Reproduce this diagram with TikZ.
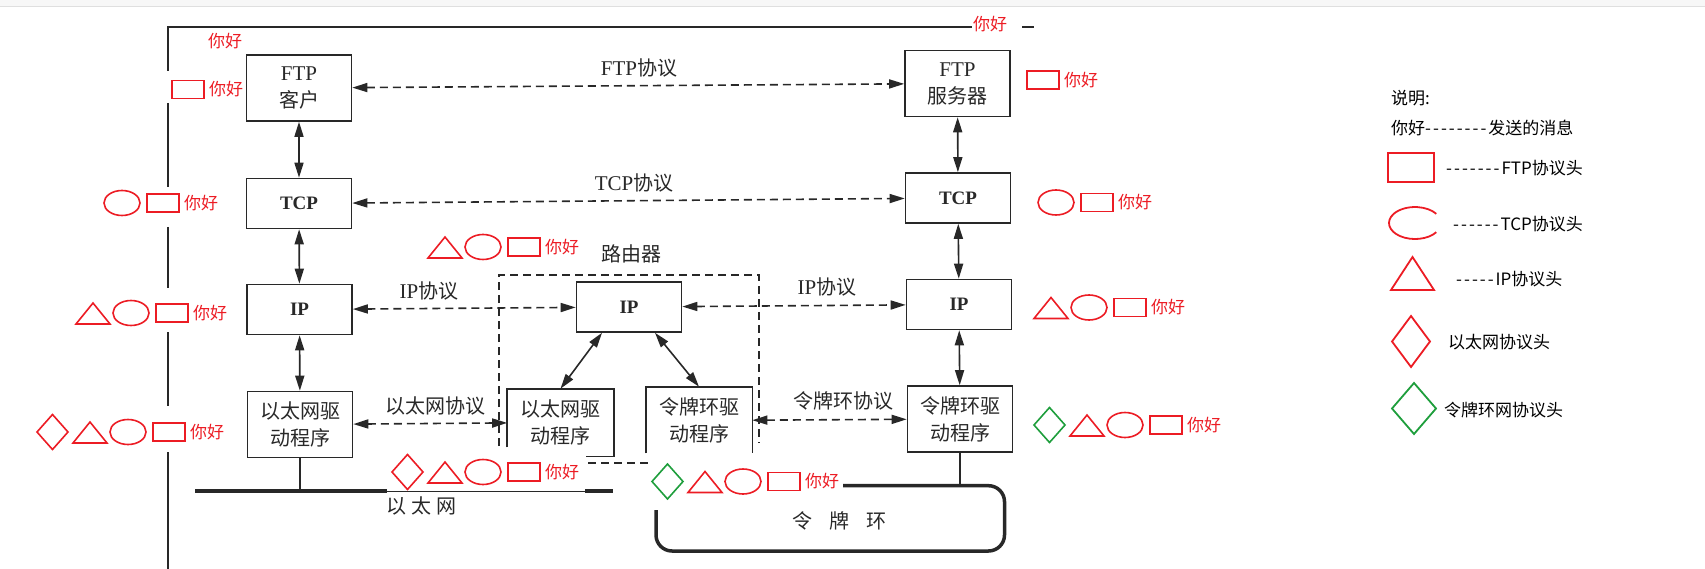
\documentclass[tikz,border=0pt]{standalone}
\usepackage{fontspec}
\setmainfont{Liberation Serif}
\newfontfamily\cjk{Noto Sans CJK SC}
\usetikzlibrary{arrows.meta}

\definecolor{scan}{RGB}{40,40,40}
\definecolor{hred}{RGB}{236,28,36}
\definecolor{hgreen}{RGB}{30,158,60}

\newcommand{\zh}[1]{{\cjk\fontsize{20}{27}\selectfont #1}}
\newcommand{\dsh}[1]{\foreach\k in {1,...,#1}{-\kern2pt}}

\tikzstyle{sbox}=[draw=scan, line width=1.6pt, minimum width=105pt, inner sep=0pt, align=center, text=scan, font=\fontsize{21}{27}\selectfont]
\tikzstyle{lbox}=[sbox, minimum height=50pt, font=\bfseries\fontsize{19}{19}\selectfont]
\tikzstyle{dbox}=[sbox, minimum height=66pt]
\tikzstyle{updown}=[{Triangle[length=15pt,width=9pt]}-{Triangle[length=15pt,width=9pt]}, line width=1.6pt, draw=scan]
\tikzstyle{peer}=[updown, dash pattern=on 8pt off 5pt]
\tikzstyle{rtr}=[draw=scan, line width=1.5pt, dash pattern=on 8pt off 5pt]
\tikzstyle{wire}=[draw=scan, line width=1.5pt]
\tikzstyle{proto}=[text=scan, inner sep=0pt, font=\fontsize{21}{21}\selectfont]
\tikzstyle{hdr}=[draw=hred, line width=1.6pt]
\tikzstyle{hello}=[text=hred, inner sep=0pt, anchor=west, font=\cjk\fontsize{17}{17}\selectfont]
\tikzstyle{note}=[text=black, inner sep=0pt, anchor=west, font=\cjk\fontsize{17}{17}\selectfont]

% name, rect x, centre y, number of headers, diamond colour
\newcommand{\hdrs}[5]{%
  \draw[hdr] (#2,#3-9) rectangle ++(32,18);
  \node[hello] (#1) at (#2+37,#3) {你好};
  \ifnum#4>1 \draw[hdr] (#2-25,#3) ellipse [x radius=18, y radius=12.5];\fi
  \ifnum#4>2 \draw[hdr] (#2-80,#3+11) -- ++(34,0) -- ++(-17,-21) -- cycle;\fi
  \ifnum#4>3 \draw[hdr, draw=#5] (#2-116,#3) -- ++(15.5,-17.5) -- ++(15.5,17.5) -- ++(-15.5,17.5) -- cycle;\fi
}

\begin{document}
\begin{tikzpicture}[x=1pt, y=-1pt]
\useasboundingbox (0,0) rectangle (1705,569);
\fill[gray!6] (0,0) rectangle (1705,7);
\draw[gray!25, line width=1pt] (0,7) -- (1705,7);

% hosts and router
\node[dbox] (ftpc) at (299,88) {FTP\\\zh{客户}};
\node[dbox] (ftps) at (957.5,83.5) {FTP\\\zh{服务器}};
\node[lbox] (tcpl) at (299,203.5) {TCP};
\node[lbox] (tcpr) at (958,198) {TCP};
\node[lbox] (ipl) at (299.5,309.5) {IP};
\node[lbox] (ipm) at (629,307) {IP};
\node[lbox] (ipr) at (959,304.5) {IP};
\node[dbox] (ethl) at (300,424.5) {\zh{以太网驱}\\\zh{动程序}};
\node[dbox, draw=none] (ethm) at (560.5,422.5) {\zh{以太网驱}\\\zh{动程序}};
\node[dbox, draw=none] (tokm) at (699,420.5) {\zh{令牌环驱}\\\zh{动程序}};
\node[dbox] (tokr) at (960,419) {\zh{令牌环驱}\\\zh{动程序}};

\draw[wire, line width=1.6pt] ([yshift=9pt]ethm.south west) -- (ethm.north west) -- (ethm.north east) -- (ethm.south east) -- ++(-28,0);
\draw[wire, line width=1.6pt] ([yshift=1pt]tokm.south west) -- (tokm.north west) -- (tokm.north east) -- ([yshift=1pt]tokm.south east);
\draw[rtr] (499,446) -- (499,275) -- (759,275) -- (759,443);
\draw[rtr] (588,463) -- (651,463);

\draw[updown] (ftpc) -- (tcpl);
\draw[updown] (tcpl) -- (ipl);
\draw[updown] (ipl) -- (ethl);
\draw[updown] (ftps) -- (tcpr);
\draw[updown] (tcpr) -- (ipr);
\draw[updown] (ipr) -- (tokr);
\draw[updown] ([xshift=-27pt]ipm.south) -- (ethm.north);
\draw[updown] ([xshift=26pt]ipm.south) -- (tokm.north);

\draw[peer] (ftpc) -- (ftps);
\draw[peer] (tcpl) -- (tcpr);
\draw[peer] (ipl) -- (ipm);
\draw[peer] (ipm) -- (ipr);
\draw[peer] (ethl) -- (ethm);
\draw[peer] (tokm) -- (tokr);

% ethernet and token ring
\coordinate (ethA) at (195,491);
\coordinate (ringT) at (843,485.7);
\draw[scan, line width=3.5pt] (ethA) -- (387,491);
\draw[scan, line width=1pt] (387,491) -- (585,491);
\draw[scan, line width=3.5pt] (585,491) -- (613,491);
\draw[wire, line width=1.2pt] (ethl.south) -- (ethl.south |- ethA);
\draw[scan, line width=3.5pt, rounded corners=16pt] (ringT) -- (1004.5,485.7) -- (1004.5,551) -- (656,551) -- (656,510);
\draw[wire, line width=1.2pt] (tokr.south) -- (tokr.south |- ringT);

\node[proto] (lftp) at (639,68) {FTP\zh{协议}};
\node[proto] (ltcp) at (634,183) {TCP\zh{协议}};
\node[proto] (lipl) at (429,291) {IP\zh{协议}};
\node[proto] (lipr) at (827,287) {IP\zh{协议}};
\node[proto] (leth) at (435,406) {\zh{以太网协议}};
\node[proto] (ltok) at (843,401) {\zh{令牌环协议}};
\node[proto] (lrtr) at (631,254) {\zh{路由器}};
\node[proto] (lnet) at (421,506) {\zh{以\hspace{5pt}太\hspace{5pt}网}};
\node[proto] (lring) at (839,521) {\zh{令\hspace{17pt}牌\hspace{17pt}环}};

% frame of the message path
\draw[wire] (168,71) -- (168,27) -- (972,27);
\foreach \a/\b in {103/187, 227/288, 332/406, 452/569}
  \draw[wire] (168,\a) -- (168,\b);
\draw[wire, line width=1.2pt] (1022,27) -- (1034,27);
\node[hello] (topl) at (208,41) {你好};
\node[hello] (topr) at (973,24) {你好};

% headers added on the way
\hdrs{mftpl}{172}{89.5}{1}{hred}
\hdrs{mftpr}{1027}{80}{1}{hred}
\hdrs{mtcpl}{147}{203}{2}{hred}
\hdrs{mtcpr}{1081}{202.5}{2}{hred}
\hdrs{mrtr}{508}{247}{3}{hred}
\hdrs{mipl}{156}{313}{3}{hred}
\hdrs{mipr}{1114}{307.5}{3}{hred}
\hdrs{methl}{153}{432}{4}{hred}
\hdrs{methm}{508}{472}{4}{hred}
\hdrs{mtokm}{768}{481.5}{4}{hgreen}
\hdrs{mtokr}{1150}{425}{4}{hgreen}

% legend
\node[note] (nhead) at (1391,98) {说明:};
\node[note] (nmsg) at (1391,128) {你好\dsh{8}发送的消息};
\draw[hdr, line width=1.8pt] (1388,153) rectangle (1434,182);
\node[note] (nftp) at (1446,168) {\dsh{7}FTP协议头};
\draw[hdr, line width=1.8pt] (1436.3,232.2) arc [start angle=35, end angle=325, x radius=26, y radius=16];
\node[note] (ntcp) at (1453,224) {\dsh{6}TCP协议头};
\draw[hdr, line width=1.8pt] (1391,290) -- (1434,290) -- (1412.5,257) -- cycle;
\node[note] (nip) at (1456,279) {\dsh{5}IP协议头};
\draw[hdr, line width=1.8pt] (1392,341.5) -- (1411,316) -- (1430,341.5) -- (1411,367) -- cycle;
\node[note] (neth) at (1448,342) {以太网协议头};
\draw[hdr, line width=1.8pt, draw=hgreen] (1392,408.5) -- (1414,383) -- (1436,408.5) -- (1414,434) -- cycle;
\node[note] (ntok) at (1444,410) {令牌环网协议头};
\end{tikzpicture}
\end{document}
